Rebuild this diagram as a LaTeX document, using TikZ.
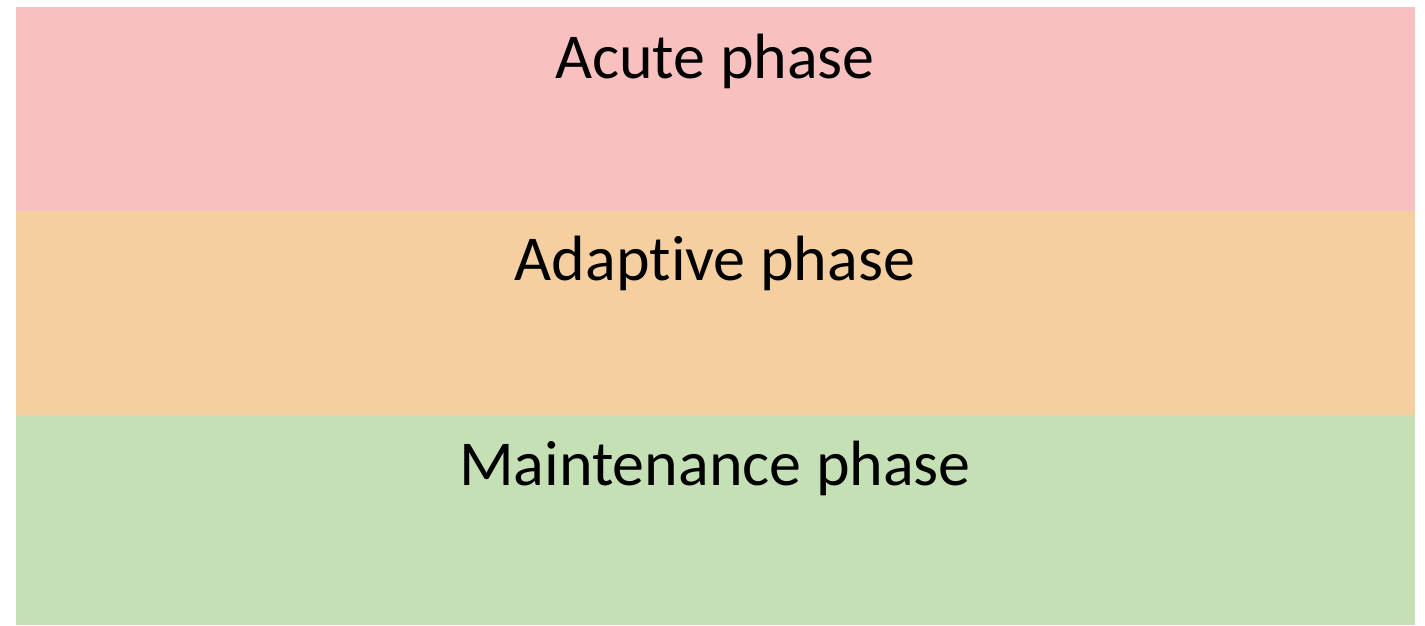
\documentclass[tikz,border=0pt]{standalone}
\usepackage{fontspec}
\setmainfont[Ligatures={NoCommon}]{Carlito}
\definecolor{acutec}{RGB}{249,192,192}
\definecolor{adaptc}{RGB}{245,207,160}
\definecolor{maintc}{RGB}{197,224,180}
\begin{document}
\begin{tikzpicture}[x=1pt,y=-1pt,
  phaselabel/.style={anchor=base,inner sep=0pt,font=\fontsize{64}{76}\selectfont}]
\useasboundingbox (0,0) rectangle (1425,626);
\fill[acutec] (16,7) rectangle (1415,211);
\fill[adaptc] (16,211) rectangle (1415,415);
\fill[maintc] (16,415) rectangle (1415,625);
\node[phaselabel] (acute) at (715,78) {Acute phase};
\node[phaselabel] (adapt) at (715,280) {Adaptive phase};
\node[phaselabel] (maint) at (715,485) {Maintenance phase};
\end{tikzpicture}
\end{document}
